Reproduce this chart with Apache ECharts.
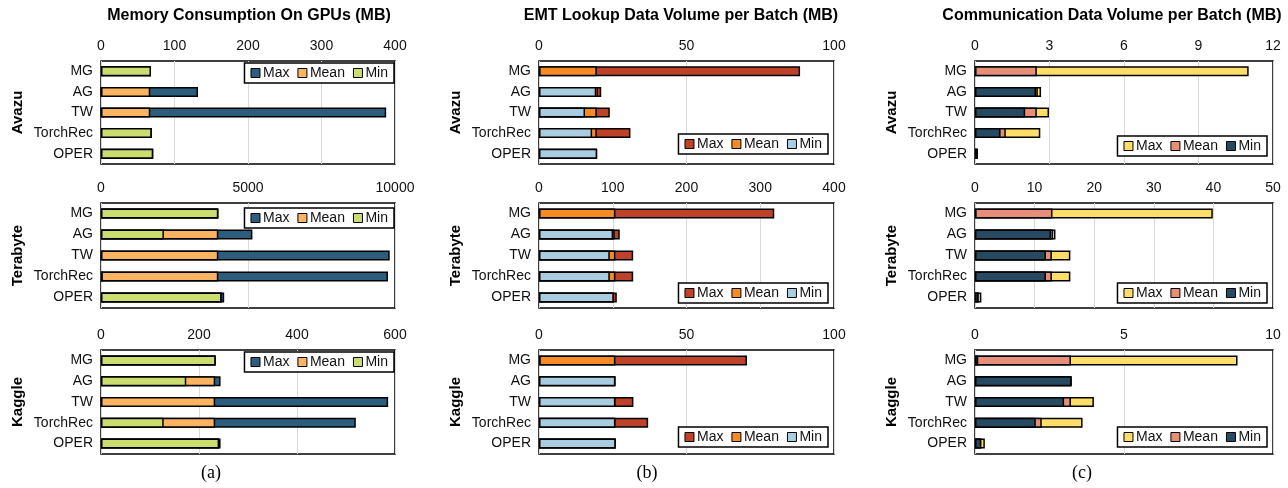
<!DOCTYPE html>
<html>
<head>
<meta charset="utf-8">
<script src="https://cdn.jsdelivr.net/npm/echarts@6/dist/echarts.min.js"></script>
<style>
  html, body { margin: 0; padding: 0; background: #fff; }
  #chart { width: 1288px; height: 488px; }
</style>
</head>
<body>
<div id="chart"></div>
<script>
// Categories (top to bottom in each panel)
const categories = ['MG', 'AG', 'TW', 'TorchRec', 'OPER'];
const datasets = ['Avazu', 'Terabyte', 'Kaggle'];
const panelTitles = [
  'Memory Consumption On GPUs (MB)',
  'EMT Lookup Data Volume per Batch (MB)',
  'Communication Data Volume per Batch (MB)'
];
const captions = ['(a)', '(b)', '(c)'];

// (a) Memory consumption on GPUs (MB)
const memAvazuMin = [68, 0.5, 0.5, 69, 71];
const memAvazuMean = [68, 67, 67, 69, 71];
const memAvazuMax = [68, 132, 388, 69, 71];
const memTerabyteMin = [3990, 2140, 20, 60, 4100];
const memTerabyteMean = [3990, 3990, 3990, 3990, 4100];
const memTerabyteMax = [3990, 5150, 9820, 9760, 4190];
const memKaggleMin = [234, 174, 1, 128, 241];
const memKaggleMean = [234, 233, 233, 233, 241];
const memKaggleMax = [234, 244, 586, 520, 244];

// (b) EMT lookup data volume per batch (MB)
const emtAvazuMin = [0.3, 19.4, 15.6, 18, 19.7];
const emtAvazuMean = [19.6, 20, 19.6, 19.6, 19.7];
const emtAvazuMax = [88.5, 21.1, 24, 31, 19.7];
const emtTerabyteMin = [1, 100.5, 96, 96, 101.4];
const emtTerabyteMean = [103.6, 102.7, 103.6, 103.6, 101.4];
const emtTerabyteMax = [319, 109.5, 127.7, 127.7, 105.5];
const emtKaggleMin = [0.5, 25.9, 25.9, 25.9, 26];
const emtKaggleMean = [25.9, 25.9, 25.9, 25.9, 26];
const emtKaggleMax = [70.5, 25.9, 32, 37, 26];

// (c) Communication data volume per batch (MB)
const commAvazuMin = [0.03, 2.46, 2.02, 1.03, 0.11];
const commAvazuMean = [2.49, 2.53, 2.49, 1.24, 0.11];
const commAvazuMax = [11.02, 2.66, 2.98, 2.63, 0.11];
const commTerabyteMin = [0.2, 12.75, 11.9, 11.9, 0.6];
const commTerabyteMean = [13, 13.1, 12.9, 12.9, 0.6];
const commTerabyteMax = [39.9, 13.5, 16, 16, 1.07];
const commKaggleMin = [0.11, 3.24, 2.99, 2.04, 0.21];
const commKaggleMean = [3.22, 3.24, 3.22, 2.24, 0.21];
const commKaggleMax = [8.81, 3.24, 3.99, 3.61, 0.33];

// Axis ranges per panel [column][row]: [max, interval]
const axisRanges = [
  [[400, 100], [10000, 5000], [600, 200]],
  [[100, 50], [400, 100], [100, 50]],
  [[12, 3], [50, 10], [10, 5]]
];

// Values per panel [column][row] = {max, mean, min}
const panelData = [
  [
    { max: memAvazuMax, mean: memAvazuMean, min: memAvazuMin },
    { max: memTerabyteMax, mean: memTerabyteMean, min: memTerabyteMin },
    { max: memKaggleMax, mean: memKaggleMean, min: memKaggleMin }
  ],
  [
    { max: emtAvazuMax, mean: emtAvazuMean, min: emtAvazuMin },
    { max: emtTerabyteMax, mean: emtTerabyteMean, min: emtTerabyteMin },
    { max: emtKaggleMax, mean: emtKaggleMean, min: emtKaggleMin }
  ],
  [
    { max: commAvazuMax, mean: commAvazuMean, min: commAvazuMin },
    { max: commTerabyteMax, mean: commTerabyteMean, min: commTerabyteMin },
    { max: commKaggleMax, mean: commKaggleMean, min: commKaggleMin }
  ]
];

// Palettes per column: Max, Mean, Min
const palettes = [
  ['#2C5D7C', '#FDB462', '#CBDD6E'],
  ['#BE4129', '#F58B24', '#A8CDE0'],
  ['#FEDE69', '#E68E78', '#254A61']
];

// Layout
const colLeft = [101, 539, 975];
const colWidth = [294, 295, 298];
const rowTop = [61, 203, 350];
const rowHeight = [103, 105, 104];
const titleCenter = [249, 681, 1112];
const captionCenter = [211, 647, 1082];
const legendTop = [
  [63, 208, 352],
  [134, 283, 427],
  [136, 283, 427]
];
const legendRight = [894, 460, 21];

const FONT = 'Liberation Sans, Arial, Helvetica, sans-serif';
const colKeys = ['a', 'b', 'c'];

const grids = [], xAxes = [], yAxes = [], series = [], legends = [], graphics = [];

for (let c = 0; c < 3; c++) {
  for (let r = 0; r < 3; r++) {
    const k = grids.length;
    grids.push({
      left: colLeft[c], top: rowTop[r], width: colWidth[c], height: rowHeight[r],
      show: true, borderColor: '#000', borderWidth: 1.5, backgroundColor: 'transparent',
      containLabel: false
    });
    xAxes.push({
      gridIndex: k, type: 'value', position: 'top',
      min: 0, max: axisRanges[c][r][0], interval: axisRanges[c][r][1],
      axisLine: { show: false }, axisTick: { show: false },
      axisLabel: { fontSize: 14, color: '#111', margin: 8, fontFamily: FONT, formatter: v => String(v) },
      splitLine: { show: true, lineStyle: { color: '#d9d9d9', width: 1 } }
    });
    yAxes.push({
      gridIndex: k, type: 'category', data: categories, inverse: true,
      axisLine: { show: false }, axisTick: { show: false },
      axisLabel: { fontSize: 14, color: '#111', margin: 8, fontFamily: FONT },
      splitLine: { show: false },
      name: datasets[r], nameLocation: 'middle', nameRotate: 90, nameGap: 76,
      nameTextStyle: { fontSize: 15, fontWeight: 'bold', color: '#000', fontFamily: FONT }
    });
    const d = panelData[c][r];
    const keys = ['max', 'mean', 'min'];
    const labels = ['Max', 'Mean', 'Min'];
    keys.forEach((key, i) => {
      series.push({
        name: labels[i] + ' ' + colKeys[c],
        type: 'bar',
        xAxisIndex: k, yAxisIndex: k,
        data: d[key],
        barWidth: 10,
        barGap: '-100%',
        itemStyle: { color: palettes[c][i], borderColor: '#000', borderWidth: 1.5 },
        emphasis: { disabled: true },
        silent: true
      });
    });
    legends.push({
      data: labels.map(l => l + ' ' + colKeys[c]),
      formatter: n => n.split(' ')[0],
      right: legendRight[c], top: legendTop[c][r],
      orient: 'horizontal', icon: 'rect',
      itemWidth: 9, itemHeight: 9, itemGap: 8,
      padding: [3, 6, 3, 6],
      borderColor: '#000', borderWidth: 1.5, backgroundColor: '#fff',
      selectedMode: false,
      itemStyle: { borderColor: '#000', borderWidth: 1 },
      textStyle: { fontSize: 14, color: '#111', fontFamily: FONT, padding: [0, 0, 0, -2] }
    });
  }
  graphics.push({
    type: 'text', x: titleCenter[c], y: 16,
    style: { text: panelTitles[c], font: 'bold 16px ' + FONT, fill: '#000', align: 'center', verticalAlign: 'middle' }
  });
  graphics.push({
    type: 'text', x: captionCenter[c], y: 473,
    style: { text: captions[c], font: '18px "Liberation Serif", "Times New Roman", serif', fill: '#000', align: 'center', verticalAlign: 'middle' }
  });
}

const chart = echarts.init(document.getElementById('chart'), null, { renderer: 'canvas' });
chart.setOption({
  animation: false,
  backgroundColor: '#fff',
  textStyle: { fontFamily: FONT },
  grid: grids,
  xAxis: xAxes,
  yAxis: yAxes,
  legend: legends,
  series: series,
  graphic: graphics
});
</script>
</body>
</html>
